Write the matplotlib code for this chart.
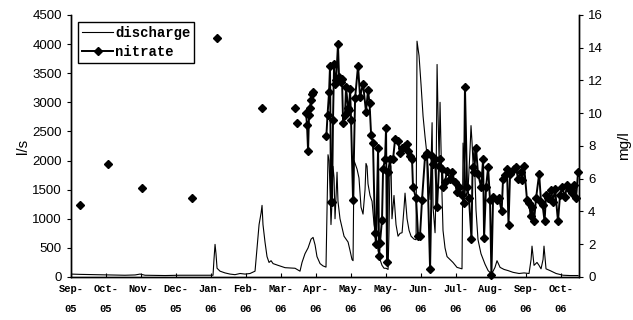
import numpy as np
import matplotlib
matplotlib.use("Agg")
import matplotlib.pyplot as plt

# x axis: day index; one labelled tick about every 29.5 days
tick_labels = ["Sep-\n05", "Oct-\n05", "Nov-\n05", "Dec-\n05", "Jan-\n06", "Feb-\n06", "Mar-\n06",
               "Apr-\n06", "May-\n06", "May-\n06", "Jun-\n06", "Jul-\n06", "Aug-\n06", "Sep-\n06", "Oct-\n06"]
tick_pos = np.arange(len(tick_labels)) * 29.49 + 0.84

# discharge (l/s)
q_day = [0.84, 8.4, 21.1, 33.7, 46.3, 54.8, 59.0, 63.2, 80.1, 92.7,
         105.3, 120.5, 121.3, 122.2, 123.0, 123.9, 126.4, 130.6, 134.8, 139.0,
         143.3, 147.5, 151.7, 155.9, 157.6, 159.3, 161.0, 161.8, 162.6, 164.3,
         166.0, 167.7, 169.4, 171.1, 175.3, 181.2, 189.6, 192.1, 193.8, 195.5,
         198.0, 200.6, 203.1, 204.8, 206.5, 208.1, 210.7, 213.2, 215.7, 216.6,
         217.4, 218.3, 219.1, 219.9, 220.8, 221.6, 222.5, 223.3, 224.2, 225.0,
         225.8, 227.5, 229.2, 230.9, 232.6, 234.3, 236.0, 237.6, 238.5, 239.3,
         240.2, 241.9, 243.5, 245.2, 246.9, 248.6, 249.4, 250.3, 251.1, 252.8,
         254.5, 256.2, 257.9, 259.6, 261.2, 262.9, 264.6, 266.3, 268.0, 268.8,
         269.7, 270.5, 271.3, 273.0, 274.7, 276.4, 278.1, 279.8, 281.5, 282.3,
         284.0, 285.7, 287.4, 289.9, 291.6, 292.4, 294.1, 295.8, 297.5, 299.2,
         300.8, 302.5, 303.4, 305.1, 305.9, 307.6, 308.4, 309.3, 310.1, 311.0,
         311.8, 313.5, 314.3, 316.0, 317.7, 320.2, 322.7, 326.1, 328.7, 330.3,
         331.2, 332.9, 333.7, 335.4, 337.1, 337.9, 338.8, 339.6, 340.5, 342.1,
         343.8, 346.3, 349.7, 352.3, 354.8, 356.5, 358.1, 359.8, 362.4, 365.7,
         369.1, 373.3, 378.4, 382.6, 386.8, 388.5, 389.3, 391.0, 393.5, 395.2,
         396.9, 398.6, 399.4, 401.1, 404.5, 409.6, 415.5, 421.3, 428.1]
q_val = [50, 45, 40, 35, 30, 35, 50, 30, 25, 30,
         30, 30, 300, 560, 400, 150, 100, 70, 50, 40,
         60, 50, 60, 100, 500, 900, 1100, 1230, 900, 600,
         350, 250, 280, 230, 200, 160, 150, 120, 100, 250,
         400, 500, 650, 680, 550, 350, 230, 190, 170, 1200,
         2100, 2000, 1500, 900, 1300, 1900, 1700, 1000, 1400, 1800,
         1300, 1000, 850, 700, 650, 600, 450, 300, 280, 2000,
         1950, 1850, 1700, 1200, 1080, 1500, 1950, 1900, 1600, 1400,
         1300, 900, 700, 450, 300, 200, 150, 150, 130, 800,
         2000, 1900, 1000, 1400, 900, 700, 750, 760, 1200, 1440,
         1000, 800, 700, 650, 640, 4050, 3800, 3300, 2760, 2400,
         2100, 1600, 1330, 2650, 1200, 760, 1500, 3650, 2800, 2000,
         3000, 1380, 800, 500, 350, 300, 250, 165, 150, 140,
         2300, 1800, 1380, 1500, 2200, 2600, 2300, 1940, 2220, 1150,
         640, 400, 220, 110, 60, 100, 165, 280, 165, 130,
         110, 80, 60, 70, 60, 300, 530, 200, 250, 200,
         140, 300, 530, 140, 110, 60, 30, 25, 25]

# nitrate (mg/l); None = break in the record
n_day = [8.4, None, 32.0, None, 60.7, None, 102.8, None, 123.9, None,
         161.8, None, 189.6, None, 191.3, None,
         198.9, 199.7, 200.6, 201.4, 202.2, 203.1, 203.9, 204.8, None,
         216.0, 217.0, 218.3, 219.1, 219.9, 220.8, 221.6, 222.5, 223.3, 224.2,
         225.8, 226.7, 228.4, 229.2, 230.1, 231.7, 232.6, 234.3, 235.1, 236.0,
         236.8, 238.5, 240.2, 242.7, 244.4, 246.9, 249.4, 251.1, 252.4, 253.7,
         255.3, 257.0, 257.9, 259.6, 260.4, 261.2, 262.9, 263.8, 265.5, 266.3,
         267.1, 268.0, 269.7, 272.2, 273.9, 276.4, 278.1, 279.8, 282.3, 284.0,
         284.8, 286.5, 288.2, 289.0, 291.6, 293.3, 294.9, 296.6, 299.2, 300.8,
         303.4, 305.1, 305.9, 307.6, 309.3, 311.0, 311.8, 313.5, 314.3, 316.0,
         317.7, 320.2, 321.8, 324.4, 326.1, 327.8, 330.3, 331.9, 332.8, 334.6,
         336.2, 338.3, 339.2, 340.5, 342.1, 343.8, 346.4, 348.1, 348.9, 350.6,
         352.3, 353.9, 355.1, 356.5, 359.4, 361.5, 363.7, 364.9, 366.6, 368.2,
         369.5, 370.8, 373.8, 375.8, 377.5, 379.6, 380.9, 382.6, 385.1, 386.8,
         388.3, 389.3, 391.0, 392.7, 395.3, 396.9, 398.2, 399.9, 401.1, 402.8,
         405.3, 407.0, 408.7, 411.2, 412.9, 414.6, 417.1, 418.8, 421.3, 423.0,
         424.7, 426.4, 428.1]
n_val = [4.4, None, 6.9, None, 5.45, None, 4.85, None, 14.6, None,
         10.3, None, 10.3, None, 9.4, None,
         10.0, 9.3, 7.7, 9.9, 10.3, 10.8, 11.2, 11.3, None,
         8.6, 9.9, 11.3, 12.9, 4.6, 4.6, 9.6, 13.0, 11.8, 12.0,
         14.2, 12.2, 11.9, 12.1, 9.4, 9.9, 11.6, 10.3, 10.2, 11.5,
         9.6, 4.7, 10.9, 12.9, 11.0, 11.8, 10.1, 11.4, 10.6, 8.7,
         8.2, 2.7, 2.0, 7.9, 1.3, 2.1, 3.5, 6.6, 7.2, 9.1,
         0.9, 6.4, 7.2, 7.2, 8.4, 8.3, 7.6, 7.9, 8.0, 8.1,
         7.7, 7.4, 7.2, 5.5, 4.8, 2.5, 2.5, 4.7, 7.4, 7.6,
         0.5, 7.4, 6.9, 7.2, 4.3, 6.8, 7.2, 6.6, 5.5, 5.8,
         6.5, 6.0, 6.4, 5.8, 5.2, 5.5, 5.0, 4.5, 11.6, 5.5,
         4.8, 2.3, 6.7, 6.4, 7.9, 6.3, 5.5, 7.2, 2.4, 5.5,
         6.7, 4.7, 0.1, 4.9, 4.7, 4.8, 4.0, 6.0, 6.2, 6.6,
         3.2, 6.3, 6.6, 6.7, 6.0, 6.4, 5.9, 6.8, 4.7, 4.5,
         3.7, 4.3, 3.4, 4.8, 6.3, 4.6, 4.4, 3.4, 5.0, 4.8,
         5.3, 4.6, 5.4, 3.4, 5.0, 5.5, 4.9, 5.6, 5.3, 5.1,
         5.6, 4.8, 6.4]

n_day = np.array([np.nan if v is None else v for v in n_day], dtype=float)
n_val = np.array([np.nan if v is None else v for v in n_val], dtype=float)

fig = plt.figure(figsize=(6.33, 3.2), dpi=100)
ax = fig.add_axes([0.1122, 0.1344, 0.8025, 0.8188])
ax2 = ax.twinx()

l1, = ax.plot(q_day, q_val, color="black", lw=0.8)
l2, = ax2.plot(n_day, n_val, color="black", lw=1.4, marker="D", ms=4.2, clip_on=False)

ax.set_xlim(0.84, 428.9)
ax.set_ylim(0, 4500)
ax2.set_ylim(0, 16)
ax.set_yticks(np.arange(0, 4501, 500))
ax2.set_yticks(np.arange(0, 17, 2))
ax.set_xticks(tick_pos)
ax.set_xticklabels(tick_labels, fontfamily="Liberation Mono", fontweight="bold", fontsize=7.5,
                   linespacing=2.2)

for a in (ax, ax2):
    a.spines["top"].set_visible(False)
    for s in a.spines.values():
        s.set_linewidth(1.0)
ax.tick_params(axis="x", direction="in", length=3, pad=5)
ax.tick_params(axis="y", direction="out", length=3, labelsize=9.5)
ax2.tick_params(axis="y", direction="out", length=3, labelsize=9.5)
for lab in ax.get_yticklabels() + ax2.get_yticklabels():
    lab.set_fontfamily("Liberation Sans")

ax.set_ylabel("l/s", fontfamily="Liberation Sans", fontsize=11, labelpad=2)
ax2.set_ylabel("mg/l", fontfamily="Liberation Sans", fontsize=11, labelpad=10)

leg = ax.legend([l1, l2], ["discharge", "nitrate"], loc="upper left",
                bbox_to_anchor=(0.014, 0.975), fancybox=False, framealpha=1,
                edgecolor="black", handlelength=2.2, handletextpad=0.15,
                borderpad=0.3, labelspacing=0.4, borderaxespad=0.0,
                prop={"family": "Liberation Mono", "weight": "bold", "size": 10})
leg.get_frame().set_linewidth(1.0)

fig.savefig("out.png", dpi=100)
